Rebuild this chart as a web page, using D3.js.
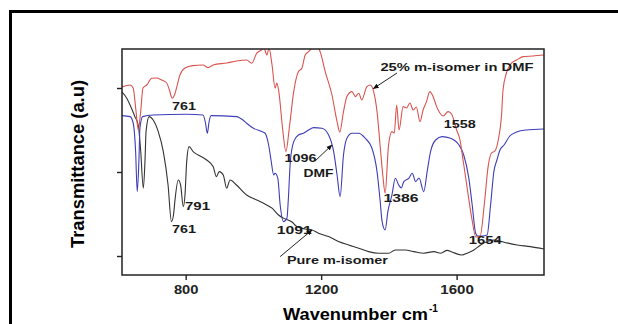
<!DOCTYPE html>
<html>
<head>
<meta charset="utf-8">
<script src="https://cdn.jsdelivr.net/npm/d3@7"></script>
<style>
  body { margin: 0; background: #fff; }
  svg { display: block; font-family: 'Liberation Sans', Arial, sans-serif; }
</style>
</head>
<body>
<div id="chart"></div>
<script>
let width = 618
let height = 324

// spectra: [wavenumber cm-1, transmittance a.u.]
const mixSpectrum = [
  [611,94],[636,95],[645,93.5],[653,82.5],[660,72.5],[667,81.5],[674,93.5],[685,95],[700,98.4],
  [714,98.5],[729,97.5],[744,96],[752,92.5],[760,88.4],[767,90],[773,93.5],[783,100],[798,103.5],
  [821,104.7],[851,105],[866,103.7],[881,105],[921,106],[950,107],[980,107.5],[995,105.9],
  [1010,110.9],[1024,112.5],[1031,113.5],[1040,110],[1046,113.5],[1055,105],[1064,93.4],
  [1069,96],[1075,91.7],[1086,73.5],[1096,61.7],[1106,73.5],[1119,91.7],[1133,101.7],
  [1143,103.4],[1153,110],[1163,111.7],[1173,113.4],[1188,114.5],[1197,111.7],[1212,101.7],
  [1232,90],[1247,76.7],[1255,71.4],[1266,81.7],[1276,89.2],[1291,91.7],[1301,89.2],
  [1311,90.9],[1320,87.5],[1335,94.2],[1345,95],[1355,91.7],[1365,81.7],[1374,65],[1382,50],
  [1389,40.9],[1399,65],[1409,71.7],[1416,71],[1423,85],[1430,72.5],[1442,84.2],[1452,83.5],
  [1462,86],[1472,82.5],[1481,84],[1492,76.7],[1501,82.5],[1511,86.7],[1521,91.7],[1531,89],
  [1541,84.2],[1551,80.9],[1560,79.5],[1575,81.7],[1585,80.5],[1600,72.5],[1610,67.5],
  [1619,57.5],[1629,46],[1644,29.2],[1657,19],[1669,19.2],[1683,37.5],[1693,54.2],
  [1703,61],[1713,62],[1723,67.5],[1733,80.9],[1737,92.5],[1747,101],[1762,105.9],
  [1777,107.5],[1796,109.2],[1825,109.5],[1858,110]
]

const dmfSpectrum = [
  [611,79.7],[636,79.2],[645,76],[652,62.5],[657,41.7],[662,57.5],[665,73.5],[673,79.2],
  [704,80],[803,80.4],[851,80],[858,76.5],[864,70.9],[869,76.5],[875,79.7],[950,79.2],
  [969,77.5],[980,75.9],[999,73.5],[1025,71.7],[1034,71],[1045,65],[1052,57.5],[1060,50],
  [1064,50.9],[1072,48.4],[1079,35],[1089,26.7],[1099,28.4],[1103,37.5],[1109,56.7],
  [1119,66.7],[1133,70],[1148,70.9],[1163,72.5],[1178,73.7],[1202,73.4],[1222,70],
  [1237,61.7],[1247,50],[1256,39.2],[1266,60],[1276,68.4],[1291,70.9],[1311,70.9],
  [1330,68.4],[1350,63.4],[1365,51.7],[1374,37.5],[1380,26.7],[1389,22.5],[1397,31.7],
  [1409,40],[1419,48.4],[1429,45],[1437,43.5],[1444,46.7],[1459,48.4],[1469,50.9],
  [1479,46.7],[1489,48.5],[1503,41.7],[1513,51.7],[1523,61.7],[1538,67.5],[1557,69.2],
  [1582,68.4],[1607,65],[1621,60],[1636,48.4],[1646,35],[1656,21],[1662,19.5],[1675,19.5],
  [1690,20],[1700,34.5],[1710,51.7],[1719,57.5],[1728,62.5],[1740,65],[1757,69.5],
  [1777,71.5],[1806,72.5],[1858,73]
]

const pureSpectrum = [
  [611,91.7],[626,88.4],[640,83.4],[650,79.2],[660,75],[667,62.5],[675,43.4],[680,57.5],
  [683,71.7],[692,79.2],[704,77.5],[719,71.7],[734,61.7],[748,45],[758,26.7],[764,30],
  [768,36.7],[778,47.5],[785,45],[793,34.2],[798,40],[803,56.7],[810,64.2],[822,61.7],
  [837,60],[862,57.5],[881,54.2],[891,49.2],[899,51.7],[911,50],[921,43.4],[931,47.5],
  [950,45],[980,40],[1010,37.5],[1034,35.5],[1055,33.4],[1074,30],[1094,28],[1114,26.5],
  [1128,24.2],[1153,23],[1173,22.5],[1192,20.9],[1222,19.2],[1251,16.7],[1281,15],
  [1311,13.4],[1340,11.7],[1370,10.9],[1399,10.9],[1419,12.5],[1448,12.5],[1474,11.7],
  [1503,10.9],[1533,11.7],[1553,10.9],[1572,12.3],[1586,11.5],[1616,10],[1631,10.9],
  [1651,12.5],[1671,15],[1690,16.7],[1710,17.5],[1740,16.4],[1779,15],[1818,14.2],[1858,13]
]

const xTicks = [800, 1200, 1600]
const yTicks = [9.5, 51.5, 93.5]

// peak labels: text, wavenumber, transmittance (left/baseline)
const peakText = ['761', '761', '791', '1096', 'DMF', '1091', 'Pure m-isomer', '1386', '1558', '1654', '25% m-isomer in DMF']
const peakWn = [760, 760, 798, 1092, 1148, 1069, 1099, 1384, 1562, 1636, 1375]
const peakT = [82.5, 21, 32.5, 56.5, 49, 20.5, 5.6, 36.6, 73.6, 15.3, 102.2]
const peakLen = [24, 24, 25, 32, 30, 35, 101, 35, 32, 33, 153]

// arrows: [from wn, from T, to wn, to T]
const arrows = [
  [1182, 57, 1232, 65],
  [1079, 9.2, 1173, 22.5],
  [1424, 101, 1354, 93.2]
]

let svg = d3.select('#chart')
            .append('svg')
            .attr('width', width)
            .attr('height', height)

svg.append('rect')
    .attr('width', width)
    .attr('height', height)
    .attr('fill', '#fff')

// thick outer border (top + left only visible)
svg.append('path')
    .attr('d', 'M10.5,' + height + ' V11.5 H' + width)
    .attr('fill', 'none')
    .attr('stroke', '#000')
    .attr('stroke-width', 3)

let plot = {left: 122, right: 544, top: 49, bottom: 275}

let xScale = d3.scaleLinear()
                .domain([612, 1858])
                .range([plot.left, plot.right])

let yScale = d3.scaleLinear()
                .domain([0, 113])
                .range([plot.bottom, plot.top])

svg.append('defs')
    .append('clipPath')
    .attr('id', 'clip')
    .append('rect')
    .attr('x', plot.left)
    .attr('y', plot.top)
    .attr('width', plot.right - plot.left)
    .attr('height', plot.bottom - plot.top)

svg.append('marker')
    .attr('id', 'head')
    .attr('viewBox', '0 0 10 10')
    .attr('refX', 9)
    .attr('refY', 5)
    .attr('markerWidth', 6)
    .attr('markerHeight', 6)
    .attr('markerUnits', 'userSpaceOnUse')
    .attr('orient', 'auto')
    .append('path')
    .attr('d', 'M0,1 L10,5 L0,9 z')
    .attr('fill', '#111')

let line = d3.line()
            .x(d => xScale(d[0]))
            .y(d => yScale(d[1]))
            .curve(d3.curveMonotoneX)

let series = [
  {data: pureSpectrum, color: '#333333'},
  {data: dmfSpectrum, color: '#3d3db8'},
  {data: mixSpectrum, color: '#d9534f'}
]

svg.append('g')
    .attr('clip-path', 'url(#clip)')
    .selectAll('path')
    .data(series)
    .enter()
    .append('path')
    .attr('d', d => line(d.data))
    .attr('fill', 'none')
    .attr('stroke', d => d.color)
    .attr('stroke-width', 1.1)
    .attr('stroke-linejoin', 'round')

// axes
let xAxis = svg.append('g')
    .attr('transform', 'translate(0,' + plot.bottom + ')')
    .call(d3.axisBottom(xScale)
        .tickValues(xTicks)
        .tickFormat(d3.format('d'))
        .tickSize(5)
        .tickSizeOuter(0)
        .tickPadding(5))

let yAxis = svg.append('g')
    .attr('transform', 'translate(' + plot.left + ',0)')
    .call(d3.axisLeft(yScale).tickValues(yTicks).tickSize(5).tickSizeOuter(0).tickFormat(''))

xAxis.select('.domain').remove()
yAxis.select('.domain').remove()
svg.selectAll('.tick line').attr('stroke', '#222').attr('stroke-width', 1.4)

xAxis.selectAll('.tick text')
    .attr('fill', '#222')
    .style('font-size', '12px')
    .style('font-weight', 'bold')
    .attr('textLength', d => d < 1000 ? 24.5 : 33.5)
    .attr('lengthAdjust', 'spacingAndGlyphs')

svg.append('rect')
    .attr('x', plot.left)
    .attr('y', plot.top)
    .attr('width', plot.right - plot.left)
    .attr('height', plot.bottom - plot.top)
    .attr('fill', 'none')
    .attr('stroke', '#222')
    .attr('stroke-width', 1.5)

// peak labels
svg.append('g')
    .selectAll('text')
    .data(peakText)
    .enter()
    .append('text')
    .attr('x', (d, i) => xScale(peakWn[i]))
    .attr('y', (d, i) => yScale(peakT[i]))
    .attr('textLength', (d, i) => peakLen[i])
    .attr('lengthAdjust', 'spacingAndGlyphs')
    .attr('fill', '#1a1a1a')
    .style('font-size', '11.5px')
    .style('font-weight', 'bold')
    .text(d => d)

svg.append('g')
    .selectAll('line')
    .data(arrows)
    .enter()
    .append('line')
    .attr('x1', d => xScale(d[0]))
    .attr('y1', d => yScale(d[1]))
    .attr('x2', d => xScale(d[2]))
    .attr('y2', d => yScale(d[3]))
    .attr('stroke', '#222')
    .attr('stroke-width', 1)
    .attr('marker-end', 'url(#head)')

// axis titles
svg.append('text')
    .attr('x', 283)
    .attr('y', 320)
    .attr('textLength', 145)
    .attr('lengthAdjust', 'spacingAndGlyphs')
    .style('font-size', '17px')
    .style('font-weight', 'bold')
    .text('Wavenumber cm')

svg.append('text')
    .attr('x', 429)
    .attr('y', 312)
    .style('font-size', '10px')
    .style('font-weight', 'bold')
    .text('-1')

svg.append('text')
    .attr('transform', 'translate(84,164) rotate(-90)')
    .attr('text-anchor', 'middle')
    .attr('textLength', 168)
    .attr('lengthAdjust', 'spacingAndGlyphs')
    .style('font-size', '18px')
    .style('font-weight', 'bold')
    .text('Transmittance (a.u)')
</script>
</body>
</html>
